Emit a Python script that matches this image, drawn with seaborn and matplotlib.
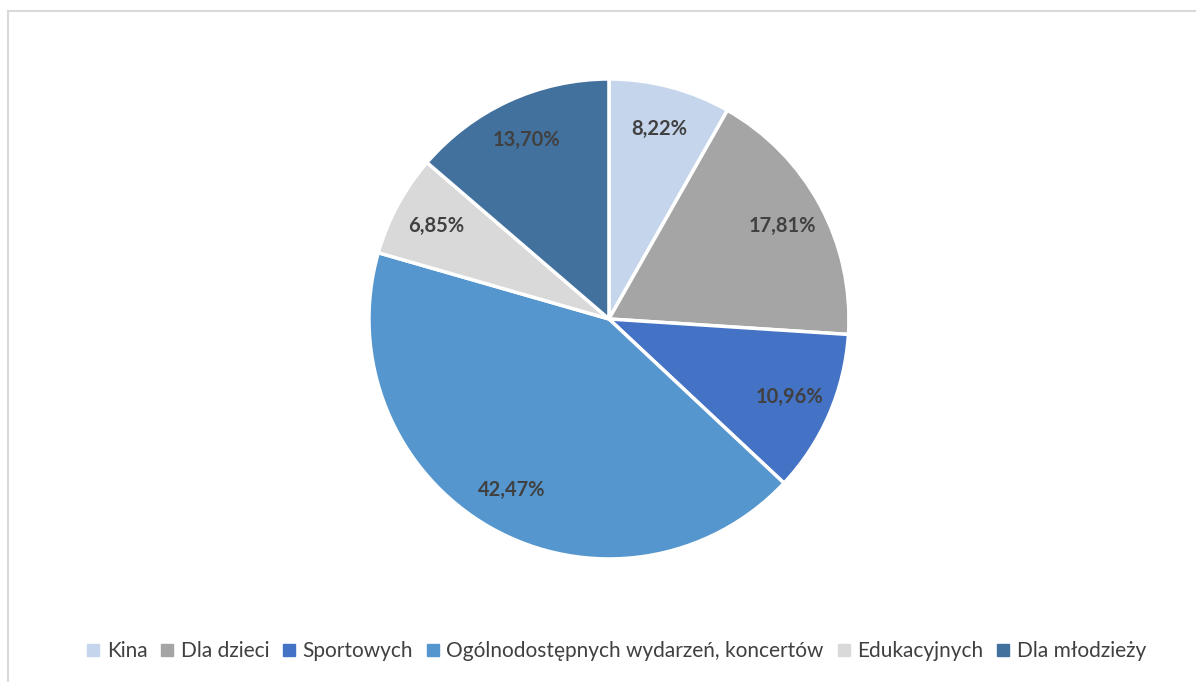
import matplotlib
matplotlib.use("Agg")
import matplotlib.pyplot as plt
from matplotlib.lines import Line2D
from matplotlib.patches import Rectangle
import seaborn as sns

categories = ["Kina", "Dla dzieci", "Sportowych",
              "Ogólnodostępnych wydarzeń, koncertów", "Edukacyjnych", "Dla młodzieży"]
shares = [8.22, 17.81, 10.96, 42.47, 6.85, 13.70]
colors = ["#C5D5EB", "#A5A5A5", "#4472C4", "#5596CE", "#D9D9D9", "#43719E"]

sns.set_theme(style="white")
plt.rcParams['font.family'] = ['Lato', 'DejaVu Sans']
pal = sns.color_palette(colors)

fig = plt.figure(figsize=(11.96, 6.82), dpi=100)
# light frame like the chart area border
fig.patches.append(Rectangle((8 / 1196, -0.05), 1.1, 1 - 11 / 682 + 0.05,
                             transform=fig.transFigure, fill=False,
                             edgecolor="#D9D9D9", linewidth=1.5))

ax = fig.add_axes([0.3085, 0.1804, 0.4013, 0.7038])
wedges, texts, autotexts = ax.pie(
    shares, colors=pal, startangle=90, counterclock=False,
    autopct="%.2f", pctdistance=0.82, radius=1,
    wedgeprops=dict(edgecolor="white", linewidth=2.5),
    textprops=dict(color="#404040", fontsize=14.5, fontweight="bold"))
ax.set_xlim(-1.0, 1.0)
ax.set_ylim(-1.0, 1.0)
ax.set_aspect("equal")
ax.axis("off")

# labels use the source values directly
for t, v in zip(autotexts, shares):
    t.set_text(f"{v:.2f}%".replace(".", ","))

handles = [Line2D([], [], marker="s", linestyle="none", markersize=8,
                  markerfacecolor=c, markeredgecolor=c) for c in pal]
fig.legend(handles, categories, loc="center", bbox_to_anchor=(0.515, 0.045),
           ncol=6, frameon=False, fontsize=15, handletextpad=0.3,
           handlelength=0.7, columnspacing=0.6, labelcolor="#404040")

fig.savefig("out.png", dpi=100)
